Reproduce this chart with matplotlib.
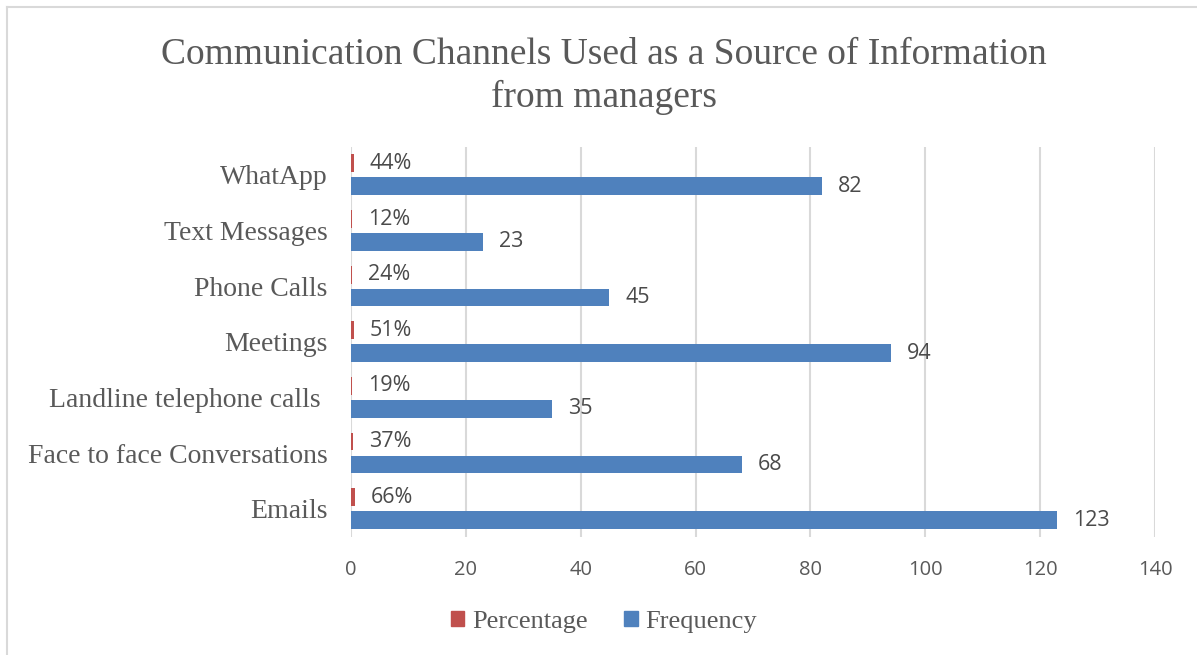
import matplotlib
matplotlib.use("Agg")
import matplotlib.pyplot as plt
from matplotlib.lines import Line2D
from matplotlib.patches import Patch
import numpy as np

# Data (bottom to top as drawn)
categories = ["Emails", "Face to face Conversations", "Landline telephone calls ",
              "Meetings", "Phone Calls", "Text Messages", "WhatApp"]
frequency = [123, 68, 35, 94, 45, 23, 82]
percentage = [0.66, 0.37, 0.19, 0.51, 0.24, 0.12, 0.44]
xticks = [0, 20, 40, 60, 80, 100, 120, 140]

blue = "#4F81BD"
red = "#C0504D"
text_gray = "#595959"
grid_gray = "#D9D9D9"
serif = "Liberation Serif"
sans = "Open Sans"

W, H, DPI = 1197, 655, 100
fig = plt.figure(figsize=(W / DPI, H / DPI), dpi=DPI)

# chart frame (top and left edges visible)
fig.add_artist(Line2D([7 / W, 7 / W], [0, 1 - 7 / H], color=grid_gray, lw=1.5,
                      transform=fig.transFigure))
fig.add_artist(Line2D([7 / W, 1], [1 - 7 / H, 1 - 7 / H], color=grid_gray, lw=1.5,
                      transform=fig.transFigure))

left, right = 351 / W, 1155 / W
top, bottom = 1 - 147 / H, 1 - 536.5 / H
ax = fig.add_axes([left, bottom, right - left, top - bottom])

y = np.arange(len(categories))
h = 0.32
off = 0.206
ax.barh(y + off, percentage, height=h, color=red, zorder=3)
ax.barh(y - off, frequency, height=h, color=blue, zorder=3)

ax.set_xlim(0, 140)
ax.set_ylim(-0.5, len(categories) - 0.5)
ax.set_xticks(xticks)
ax.set_xticklabels([str(t) for t in xticks], fontfamily=sans, fontsize=14.5, color=text_gray)
ax.set_yticks(y)
ax.set_yticklabels(categories, fontfamily=serif, fontsize=20, color=text_gray)
ax.tick_params(axis="both", length=0)
ax.tick_params(axis="x", pad=17)
ax.tick_params(axis="y", pad=17)
for s in ax.spines.values():
    s.set_visible(False)
ax.grid(axis="x", color=grid_gray, lw=1.5, zorder=0)
ax.set_axisbelow(True)

for yi, p in zip(y, percentage):
    ax.annotate(f"{p:.0%}", (p, yi + off), xytext=(11.5, 0), textcoords="offset points",
                va="center", ha="left", fontfamily=sans, fontsize=15.5, color="#4a4a4a")
for yi, f in zip(y, frequency):
    ax.annotate(f"{f}", (f, yi - off), xytext=(11.5, 0), textcoords="offset points",
                va="center", ha="left", fontfamily=sans, fontsize=15.5, color="#4a4a4a")

fig.text(604 / W, 1 - 76 / H,
         "Communication Channels Used as a Source of Information\nfrom managers",
         ha="center", va="center", fontfamily=serif, fontsize=27, color=text_gray,
         linespacing=1.28)

handles = [Patch(color=red, label="Percentage"), Patch(color=blue, label="Frequency")]
fig.legend(handles=handles, loc="center", bbox_to_anchor=(604 / W, 1 - 622 / H),
           ncol=2, frameon=False, prop={"family": serif, "size": 19},
           handlelength=0.5, handleheight=0.5, handletextpad=0.3, columnspacing=1.4,
           labelcolor=text_gray)

fig.savefig("out.png", dpi=DPI)
